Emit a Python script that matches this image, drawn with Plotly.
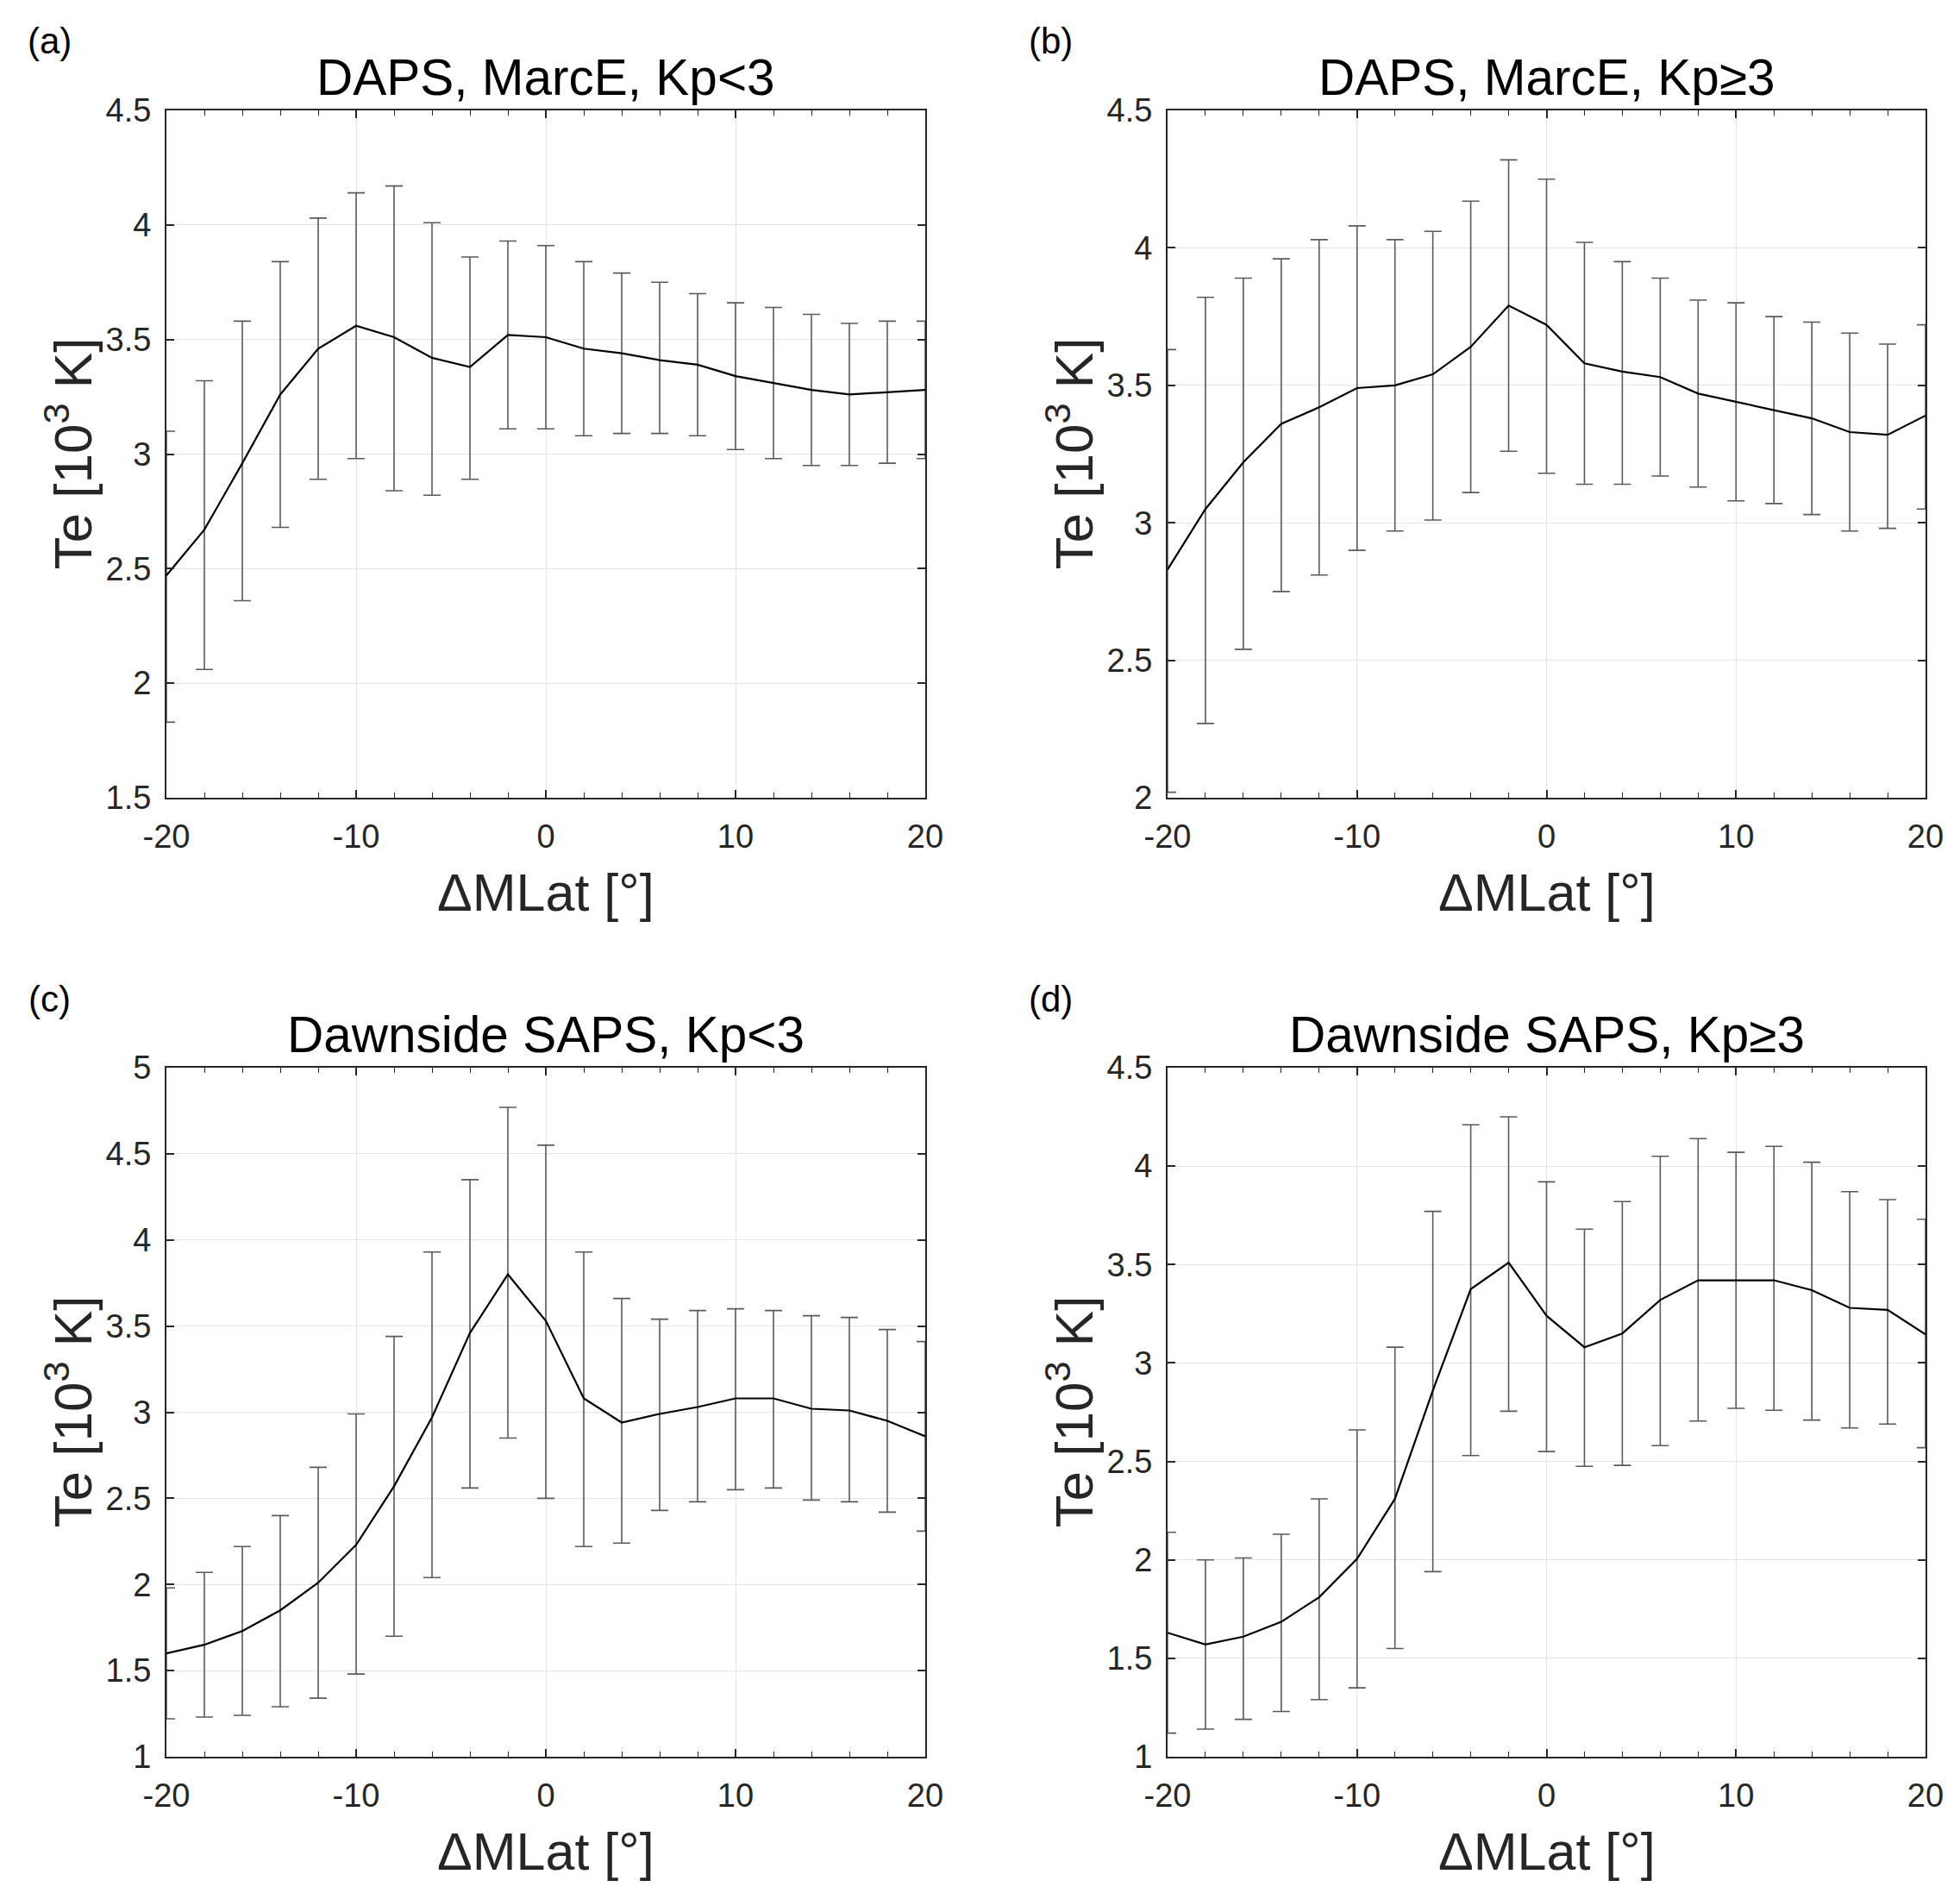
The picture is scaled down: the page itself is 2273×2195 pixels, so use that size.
import plotly.graph_objects as go

W, H = 2273, 2195
OFF = 8  # default page body margin in the browser

x_lat = [-20, -18, -16, -14, -12, -10, -8, -6, -4, -2, 0, 2, 4, 6, 8, 10, 12, 14, 16, 18, 20]

a_mean = [2.47, 2.67, 2.96, 3.26, 3.46, 3.56, 3.51, 3.42, 3.38, 3.52, 3.51, 3.46, 3.44, 3.41, 3.39, 3.34, 3.31, 3.28, 3.26, 3.27, 3.28]
a_upper = [3.10, 3.32, 3.58, 3.84, 4.03, 4.14, 4.17, 4.01, 3.86, 3.93, 3.91, 3.84, 3.79, 3.75, 3.70, 3.66, 3.64, 3.61, 3.57, 3.58, 3.58]
a_lower = [1.83, 2.06, 2.36, 2.68, 2.89, 2.98, 2.84, 2.82, 2.89, 3.11, 3.11, 3.08, 3.09, 3.09, 3.08, 3.02, 2.98, 2.95, 2.95, 2.96, 2.98]

b_mean = [2.83, 3.05, 3.22, 3.36, 3.42, 3.49, 3.50, 3.54, 3.64, 3.79, 3.72, 3.58, 3.55, 3.53, 3.47, 3.44, 3.41, 3.38, 3.33, 3.32, 3.39]
b_upper = [3.63, 3.82, 3.89, 3.96, 4.03, 4.08, 4.03, 4.06, 4.17, 4.32, 4.25, 4.02, 3.95, 3.89, 3.81, 3.80, 3.75, 3.73, 3.69, 3.65, 3.72]
b_lower = [2.02, 2.27, 2.54, 2.75, 2.81, 2.90, 2.97, 3.01, 3.11, 3.26, 3.18, 3.14, 3.14, 3.17, 3.13, 3.08, 3.07, 3.03, 2.97, 2.98, 3.05]

c_mean = [1.60, 1.65, 1.73, 1.85, 2.01, 2.23, 2.57, 2.97, 3.46, 3.80, 3.53, 3.08, 2.94, 2.99, 3.03, 3.08, 3.08, 3.02, 3.01, 2.95, 2.86]
c_upper = [1.98, 2.07, 2.22, 2.40, 2.68, 2.99, 3.44, 3.93, 4.35, 4.77, 4.55, 3.93, 3.66, 3.54, 3.59, 3.60, 3.59, 3.56, 3.55, 3.48, 3.41]
c_lower = [1.22, 1.23, 1.24, 1.29, 1.34, 1.48, 1.70, 2.04, 2.56, 2.85, 2.50, 2.22, 2.24, 2.43, 2.48, 2.55, 2.56, 2.49, 2.48, 2.42, 2.31]

d_mean = [1.63, 1.57, 1.61, 1.685, 1.81, 2.005, 2.31, 2.86, 3.375, 3.51, 3.24, 3.08, 3.15, 3.32, 3.42, 3.42, 3.42, 3.37, 3.28, 3.27, 3.145]
d_upper = [2.14, 2.00, 2.01, 2.13, 2.31, 2.66, 3.08, 3.77, 4.21, 4.25, 3.92, 3.68, 3.82, 4.05, 4.14, 4.07, 4.10, 4.02, 3.87, 3.83, 3.73]
d_lower = [1.12, 1.14, 1.19, 1.23, 1.29, 1.35, 1.55, 1.94, 2.53, 2.755, 2.55, 2.475, 2.48, 2.58, 2.705, 2.77, 2.76, 2.71, 2.67, 2.69, 2.57]

titles = ["DAPS, MarcE, Kp<3", "DAPS, MarcE, Kp\u22653",
          "Dawnside SAPS, Kp<3", "Dawnside SAPS, Kp\u22653"]
panel_tags = ["(a)", "(b)", "(c)", "(d)"]
y_ranges = [[1.5, 4.5], [2, 4.5], [1, 5], [1, 4.5]]
x_tickvals = [-20, -10, 0, 10, 20]
x_ticktext = ["-20", "-10", "0", "10", "20"]
y_tickvals = [1, 1.5, 2, 2.5, 3, 3.5, 4, 4.5, 5]
y_ticktext = ["1", "1.5", "2", "2.5", "3", "3.5", "4", "4.5", "5"]
x_label = "\u0394MLat [\u00b0]"
y_label = "Te [10<sup>3</sup> K]"

means = [a_mean, b_mean, c_mean, d_mean]
uppers = [a_upper, b_upper, c_upper, d_upper]
lowers = [a_lower, b_lower, c_lower, d_lower]

# page-pixel boxes of plot areas (left, right, top, bottom)
boxes = [(193, 1073, 128, 925), (1354, 2233, 128, 925),
         (193, 1073, 1238, 2037), (1354, 2233, 1238, 2037)]

FONT = "Liberation Sans, Arial, sans-serif"
AXC = "#262626"


def px(v):
    return (v - OFF) / W


def py(v):
    return 1 - (v - OFF) / H


fig = go.Figure()
annotations = []
for i in range(4):
    l, r, t, b = boxes[i]
    xa = "xaxis" if i == 0 else f"xaxis{i+1}"
    ya = "yaxis" if i == 0 else f"yaxis{i+1}"
    xref = "x" if i == 0 else f"x{i+1}"
    yref = "y" if i == 0 else f"y{i+1}"
    m = means[i]
    plus = [u - v for u, v in zip(uppers[i], m)]
    minus = [v - lo for v, lo in zip(m, lowers[i])]
    fig.add_trace(go.Scatter(
        x=x_lat, y=m, mode="lines", xaxis=xref, yaxis=yref,
        line=dict(color="black", width=2.2),
        error_y=dict(type="data", symmetric=False, array=plus, arrayminus=minus,
                     color="#5a5a5a", thickness=1.6, width=10),
        showlegend=False,
    ))
    yr = y_ranges[i]
    yt = [v for v in y_tickvals if yr[0] <= v <= yr[1]]
    ytt = [y_ticktext[y_tickvals.index(v)] for v in yt]
    fig.layout[xa] = dict(
        domain=[px(l), px(r)], anchor=yref, range=[-20, 20], automargin=False,
        tickvals=x_tickvals, ticktext=x_ticktext,
        ticks="inside", ticklen=9, tickwidth=1.5, tickcolor=AXC,
        minor=dict(dtick=2, tick0=0, ticks="inside", ticklen=6, tickwidth=1.3,
                   tickcolor=AXC, showgrid=False),
        showline=True, linecolor=AXC, linewidth=2, mirror="allticks",
        showgrid=True, gridcolor="#e3e3e3", gridwidth=1.3,
        zeroline=False, tickfont=dict(family=FONT, size=38, color=AXC),
        ticklabelstandoff=10,
    )
    fig.layout[ya] = dict(
        domain=[py(b), py(t)], anchor=xref, range=yr, automargin=False,
        tickvals=yt, ticktext=ytt,
        ticks="inside", ticklen=9, tickwidth=1.5, tickcolor=AXC,
        showline=True, linecolor=AXC, linewidth=2, mirror="allticks",
        showgrid=True, gridcolor="#e3e3e3", gridwidth=1.3,
        zeroline=False, tickfont=dict(family=FONT, size=38, color=AXC),
        ticklabelstandoff=8,
    )
    cx = (l + r) / 2
    annotations.append(dict(text=titles[i], x=px(cx), y=py(t - 39),
                            xref="paper", yref="paper", showarrow=False,
                            xanchor="center", yanchor="middle",
                            font=dict(family=FONT, size=58.5, color="black")))
    annotations.append(dict(text=x_label, x=px(cx), y=py(b + 110),
                            xref="paper", yref="paper", showarrow=False,
                            xanchor="center", yanchor="middle",
                            font=dict(family=FONT, size=61, color=AXC)))
    annotations.append(dict(text=y_label, x=px(l - 114), y=py((t + b) / 2),
                            xref="paper", yref="paper", showarrow=False,
                            xanchor="center", yanchor="middle", textangle=-90,
                            font=dict(family=FONT, size=62, color=AXC)))
    annotations.append(dict(text=panel_tags[i], x=px(l - 136), y=py(t - 80),
                            xref="paper", yref="paper", showarrow=False,
                            xanchor="center", yanchor="middle",
                            font=dict(family=FONT, size=42, color="black")))

fig.update_layout(
    width=W, height=H, margin=dict(l=0, r=0, t=0, b=0, autoexpand=False),
    paper_bgcolor="white", plot_bgcolor="white",
    annotations=annotations, showlegend=False,
)
fig.write_html("out.html")
